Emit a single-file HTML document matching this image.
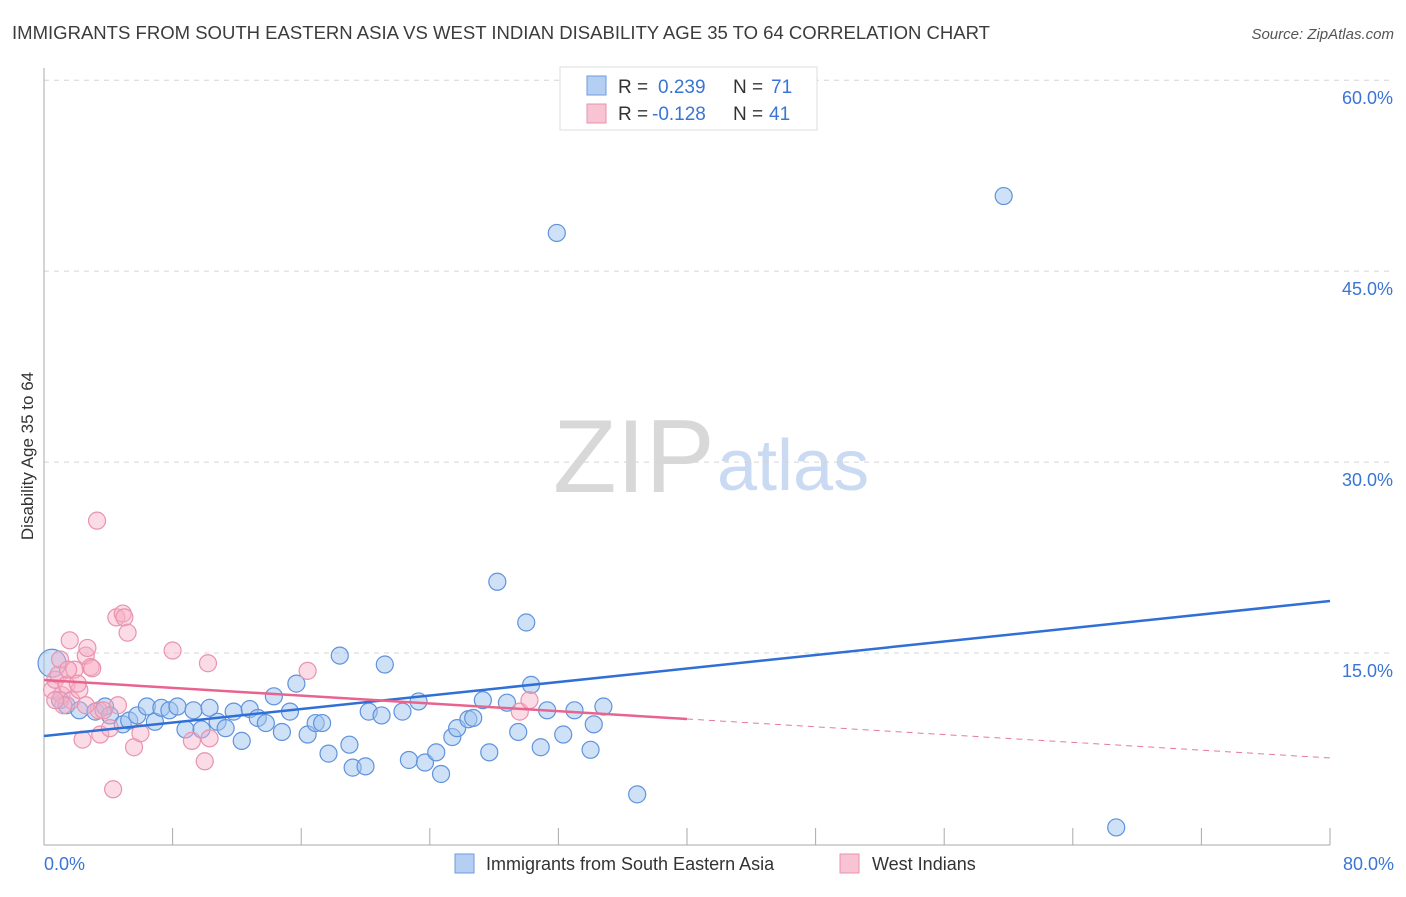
<!DOCTYPE html>
<html><head><meta charset="utf-8"><style>
body{margin:0;background:#fff;font-family:"Liberation Sans",sans-serif;}
svg text{font-family:"Liberation Sans",sans-serif;}
</style></head><body>
<svg id="chart" width="1406" height="892" xmlns="http://www.w3.org/2000/svg">
<text x="12" y="39" font-size="18.5" fill="#3c3c3c" textLength="978" lengthAdjust="spacingAndGlyphs">IMMIGRANTS FROM SOUTH EASTERN ASIA VS WEST INDIAN DISABILITY AGE 35 TO 64 CORRELATION CHART</text>
<text x="1394" y="39" font-size="15" fill="#555" text-anchor="end" font-style="italic">Source: ZipAtlas.com</text>
<text x="553" y="492" font-size="104" fill="#d8d8d8" font-family="Liberation Serif">ZIP</text>
<text x="717" y="490" font-size="72" fill="#c9daf2">atlas</text>
<text transform="translate(33,456) rotate(-90)" font-size="17" fill="#333" text-anchor="middle">Disability Age 35 to 64</text>
<g id="grid"></g><g id="pts"></g><g id="lines"></g>
<g>
<rect x="560" y="67" width="257" height="63" fill="#fff" stroke="#ddd"/>
<rect x="587" y="76" width="19" height="19" fill="#b5cff2" stroke="#6e9be0"/>
<rect x="587" y="104" width="19" height="19" fill="#f8c3d3" stroke="#ea93ae"/>
<text x="618" y="93" font-size="19" fill="#333">R =</text>
<text x="658" y="93" font-size="19" fill="#3a75d4">0.239</text>
<text x="733" y="93" font-size="19" fill="#333">N =</text>
<text x="771" y="93" font-size="19" fill="#3a75d4">71</text>
<text x="618" y="120" font-size="19" fill="#333">R =</text>
<text x="652" y="120" font-size="19" fill="#3a75d4">-0.128</text>
<text x="733" y="120" font-size="19" fill="#333">N =</text>
<text x="769" y="120" font-size="19" fill="#3a75d4">41</text>
</g>
<g>
<rect x="455" y="854" width="19" height="19" fill="#b5cff2" stroke="#6e9be0"/>
<text x="486" y="870" font-size="18" fill="#333">Immigrants from South Eastern Asia</text>
<rect x="840" y="854" width="19" height="19" fill="#f8c3d3" stroke="#ea93ae"/>
<text x="872" y="870" font-size="18" fill="#333">West Indians</text>
</g>
<text x="44" y="870" font-size="18" fill="#3a75d4">0.0%</text>
<text x="1394" y="870" font-size="18" fill="#3a75d4" text-anchor="end">80.0%</text>
</svg>
<script>
const yTicks=[15,30,45,60];
const blueX=[0.5,1.0,1.4,2.2,3.2,3.8,4.1,4.9,5.3,5.8,6.4,6.9,7.3,7.8,8.3,8.8,9.3,9.8,10.3,10.8,11.3,11.8,12.3,12.8,13.3,13.8,14.3,14.8,15.3,15.7,16.4,16.9,17.3,17.7,18.4,19.0,19.2,20.0,20.2,21.0,21.2,22.3,22.7,23.3,23.7,24.4,24.7,25.4,25.7,26.4,26.7,27.3,27.7,28.2,28.8,29.5,30.0,30.3,30.9,31.3,31.9,32.3,33.0,34.0,34.2,34.8,36.9,59.7,66.7];
const blueY=[14.2,11.3,10.9,10.5,10.4,10.8,10.1,9.4,9.7,10.1,10.8,9.6,10.7,10.5,10.8,9.0,10.5,9.0,10.7,9.6,9.1,10.4,8.1,10.6,9.9,9.5,11.6,8.8,10.4,12.6,8.6,9.5,9.5,7.1,14.8,7.8,6.0,6.1,10.4,10.1,14.1,10.4,6.6,11.2,6.4,7.2,5.5,8.4,9.1,9.8,9.9,11.3,7.2,20.6,11.1,8.8,17.4,12.5,7.6,10.5,48.0,8.6,10.5,7.4,9.4,10.8,3.9,50.9,1.3];
const pinkX=[0.5,0.7,0.9,1.1,1.4,1.6,1.7,1.9,2.2,2.6,2.7,2.9,3.0,3.3,3.4,3.5,3.7,4.1,4.3,4.6,4.5,4.9,5.0,5.2,5.6,6.0,8.0,9.2,10.0,10.2,10.3,16.4,29.6,30.2,1.0,1.2,2.1,1.5,0.7,2.4,2.6];
const pinkY=[12.1,12.9,13.3,11.7,12.5,16.0,11.3,13.7,12.1,14.8,15.4,13.9,13.8,25.4,10.5,8.6,10.5,9.1,4.3,10.9,17.8,18.1,17.8,16.6,7.6,8.7,15.2,8.1,6.5,14.2,8.3,13.6,10.4,11.3,14.5,10.9,12.6,13.7,11.3,8.2,10.9];
const blueTrend=[8.48,19.09];
const pinkTrend=[12.88,6.76];
const pinkSolidEnd=40;
const NS="http://www.w3.org/2000/svg";
const xs=v=>44+v*16.075, ys=v=>844-v*12.73;
function mk(tag,attrs,parent){const e=document.createElementNS(NS,tag);for(const k in attrs)e.setAttribute(k,attrs[k]);parent.appendChild(e);return e;}
const grid=document.getElementById('grid');
yTicks.forEach(t=>{
  const l=mk('line',{x1:44,x2:1394,y1:ys(t),y2:ys(t),stroke:'#d5d5d5','stroke-dasharray':'5,5'},grid);
  
  
  const tx=mk('text',{x:1393,y:ys(t)+24,'font-size':18,fill:'#3a75d4','text-anchor':'end'},grid);
  tx.textContent=t.toFixed(1)+'%';
  
  
});
mk('line',{x1:44,x2:44,y1:68,y2:845,stroke:'#aaa'},grid);
mk('line',{x1:44,x2:1330,y1:845,y2:845,stroke:'#aaa'},grid);
for(let i=0;i<=10;i++){mk('line',{x1:xs(i*8),x2:xs(i*8),y1:828,y2:845,stroke:'#aaa'},grid);}
const pts=document.getElementById('pts');
blueX.forEach((x,i)=>{
  const c=mk('circle',{cx:xs(x),cy:ys(blueY[i]),r:i===0?14:8.5,fill:'rgba(160,196,240,0.5)',stroke:'#5f93dc','stroke-width':1.2},pts);
  
  
});
pinkX.forEach((x,i)=>{
  const c=mk('circle',{cx:xs(x),cy:ys(pinkY[i]),r:8.5,fill:'rgba(246,175,198,0.45)',stroke:'#e993ae','stroke-width':1.2},pts);
  
  
});
const lines=document.getElementById('lines');
const bl=mk('line',{x1:xs(0),y1:ys(blueTrend[0]),x2:xs(80),y2:ys(blueTrend[1]),stroke:'#2f6fd6','stroke-width':2.5},lines);


const pm=pinkTrend[0]+(pinkTrend[1]-pinkTrend[0])*pinkSolidEnd/80;
const pl=mk('line',{x1:xs(0),y1:ys(pinkTrend[0]),x2:xs(pinkSolidEnd),y2:ys(pm),stroke:'#e8648f','stroke-width':2.5},lines);


const pd=mk('line',{x1:xs(pinkSolidEnd),y1:ys(pm),x2:xs(80),y2:ys(pinkTrend[1]),stroke:'#e8789c','stroke-width':1,'stroke-dasharray':'6,5'},lines);


</script>
</body></html>
